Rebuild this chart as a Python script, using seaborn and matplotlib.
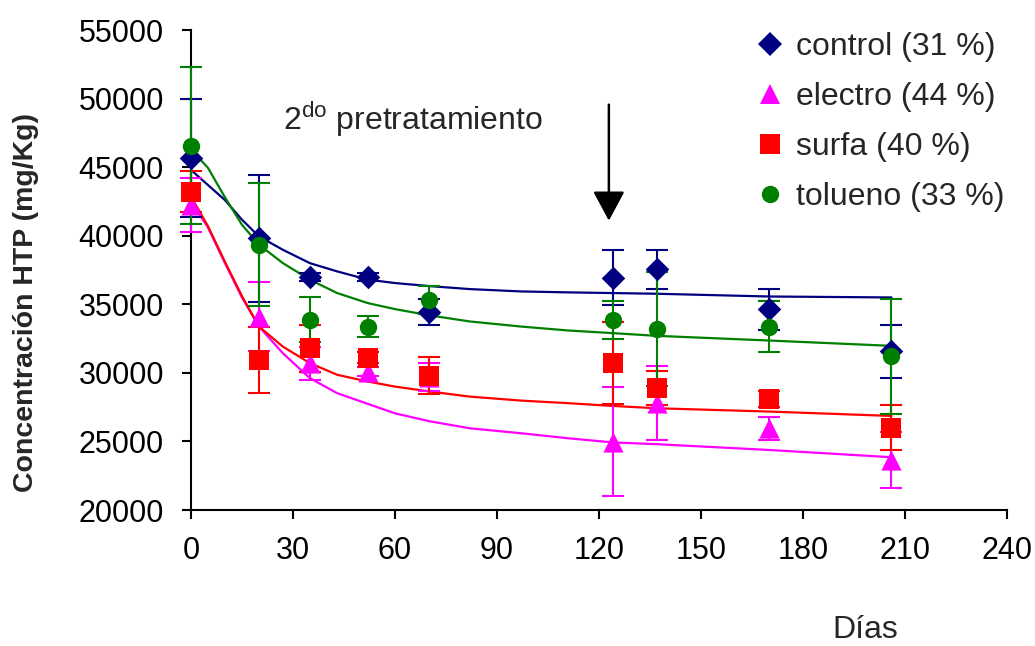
import matplotlib
matplotlib.use("Agg")
import matplotlib.pyplot as plt
import seaborn as sns
import pandas as pd
from matplotlib.lines import Line2D

# ---- data ----
days = [0, 20, 35, 52, 70, 124, 137, 170, 206]

control = [45700, 39800, 37000, 37000, 34450, 36950, 37550, 34650, 31560]
control_err = [4300, 4650, 300, 300, 950, 2000, 1400, 1500, 1950]

electro = [42250, 34100, 30700, 30100, 29700, 24990, 27790, 25960, 23650]
electro_err = [1950, 2500, 1200, 300, 1000, 4000, 2700, 850, 2050]

surfa = [43200, 30950, 31800, 31100, 29780, 30710, 28900, 28080, 26000]
surfa_err = [1500, 2400, 1700, 400, 1350, 3000, 1250, 600, 1630]

tolueno = [46570, 39350, 33870, 33380, 35330, 33870, 33190, 33380, 31200]
tolueno_err = [5700, 4500, 1650, 800, 1000, 1400, 4150, 1850, 4200]

fit_days = [0, 5, 10, 15, 20, 27, 35, 43, 52, 60, 70, 82, 97, 111, 124, 137, 170, 206]
control_fit = [44800, 43700, 42600, 41170, 39950, 38980, 38000, 37400, 36800, 36550, 36330,
               36110, 35940, 35870, 35820, 35770, 35570, 35500]
electro_fit = [42500, 40600, 38000, 35500, 33380, 31440, 29610, 28520, 27740, 27050, 26480,
               25960, 25600, 25230, 24930, 24800, 24380, 23850]
surfa_fit = [42870, 40700, 38100, 35600, 33380, 31920, 30710, 29860, 29370, 29000, 28650,
             28270, 27980, 27790, 27590, 27420, 27180, 26860]
tolueno_fit = [46300, 44950, 42800, 40800, 39350, 38010, 36790, 35820, 35090, 34650, 34200,
               33750, 33380, 33090, 32900, 32700, 32360, 31970]

series = ["control", "electro", "surfa", "tolueno"]
labels = ["control (31 %)", "electro (44 %)", "surfa (40 %)", "tolueno (33 %)"]
colors = {"control": "#000080", "electro": "#FF00FF", "surfa": "#FF0000", "tolueno": "#008000"}
markers = {"control": "D", "electro": "^", "surfa": "s", "tolueno": "o"}
msize = {"control": 12, "electro": 14.5, "surfa": 14, "tolueno": 12.5}
xticks = [0, 30, 60, 90, 120, 150, 180, 210, 240]
yticks = [20000, 25000, 30000, 35000, 40000, 45000, 50000, 55000]

values = {"control": control, "electro": electro, "surfa": surfa, "tolueno": tolueno}
errors = {"control": control_err, "electro": electro_err, "surfa": surfa_err, "tolueno": tolueno_err}
fits = {"control": control_fit, "electro": electro_fit, "surfa": surfa_fit, "tolueno": tolueno_fit}

# ---- style ----
sns.set_style("ticks")
plt.rcParams["font.family"] = ["Liberation Sans", "DejaVu Sans"]
plt.rcParams["mathtext.fontset"] = "custom"
plt.rcParams["mathtext.rm"] = "Liberation Sans"

fig = plt.figure(figsize=(10.35, 6.46), dpi=100)
ax = fig.add_axes([0.1845, 0.2105, 0.7885, 0.743])

fit_df = pd.concat([
    pd.DataFrame({"dia": fit_days, "conc": fits[s], "serie": s}) for s in series
], ignore_index=True)
pts_df = pd.concat([
    pd.DataFrame({"dia": days, "conc": values[s], "err": errors[s], "serie": s}) for s in series
], ignore_index=True)

# fitted curves
sns.lineplot(data=fit_df, x="dia", y="conc", hue="serie", palette=colors,
             estimator=None, sort=False, linewidth=1.6, legend=False, ax=ax, zorder=2)

# error bars and markers
for s in series:
    d = pts_df[pts_df["serie"] == s]
    ax.errorbar(d["dia"], d["conc"], yerr=d["err"], fmt="none", ecolor=colors[s],
                elinewidth=1.5, capsize=8, capthick=1.5, zorder=3, clip_on=False)
for s in series:
    d = pts_df[pts_df["serie"] == s]
    sns.scatterplot(data=d, x="dia", y="conc", marker=markers[s], color=colors[s],
                    s=msize[s] ** 2, linewidth=0, ax=ax, zorder=4, clip_on=False, legend=False)

ax.set_xlim(0, 240)
ax.set_ylim(20000, 55000)
ax.set_xticks(xticks)
ax.set_yticks(yticks)
ax.set_xticklabels([str(t) for t in xticks])
ax.set_yticklabels([str(t) for t in yticks])
ax.set_xlabel("")
ax.set_ylabel("")
for side in ["top", "right"]:
    ax.spines[side].set_visible(False)
for side in ["left", "bottom"]:
    ax.spines[side].set_linewidth(1.5)
    ax.spines[side].set_color("black")
ax.tick_params(axis="both", direction="out", length=6.5, width=1.5, labelsize=22, colors="black")
ax.tick_params(axis="y", pad=13)
ax.tick_params(axis="x", pad=12)

# annotation and arrow
ax.text(27, 47740, "2$^{\\rm do}$ pretratamiento", fontsize=23, ha="left", va="baseline")
ax.annotate("", xy=(122.9, 41100), xytext=(122.9, 49560),
            arrowprops=dict(arrowstyle="-|>,head_length=1.3,head_width=0.7",
                            mutation_scale=14, color="black", lw=1.8,
                            shrinkA=0, shrinkB=0))

# axis titles
fig.text(0.025, 0.531, "Concentración HTP (mg/Kg)", rotation=90, fontsize=20.5,
         fontweight="bold", ha="center", va="center")
fig.text(0.836, 0.024, "Días", fontsize=23, ha="center", va="center")

# legend
handles = [Line2D([], [], linestyle="none", marker=markers[s], color=colors[s],
                  markersize=msize[s], markeredgewidth=0)
           for s in series]
ax.legend(handles, labels, loc="upper left", bbox_to_anchor=(0.7285, 0.950),
          bbox_transform=fig.transFigure, frameon=False, fontsize=23,
          handlelength=1.0, handletextpad=0.3, labelspacing=0.62,
          borderpad=0, borderaxespad=0)

fig.savefig("out.png", dpi=100)
